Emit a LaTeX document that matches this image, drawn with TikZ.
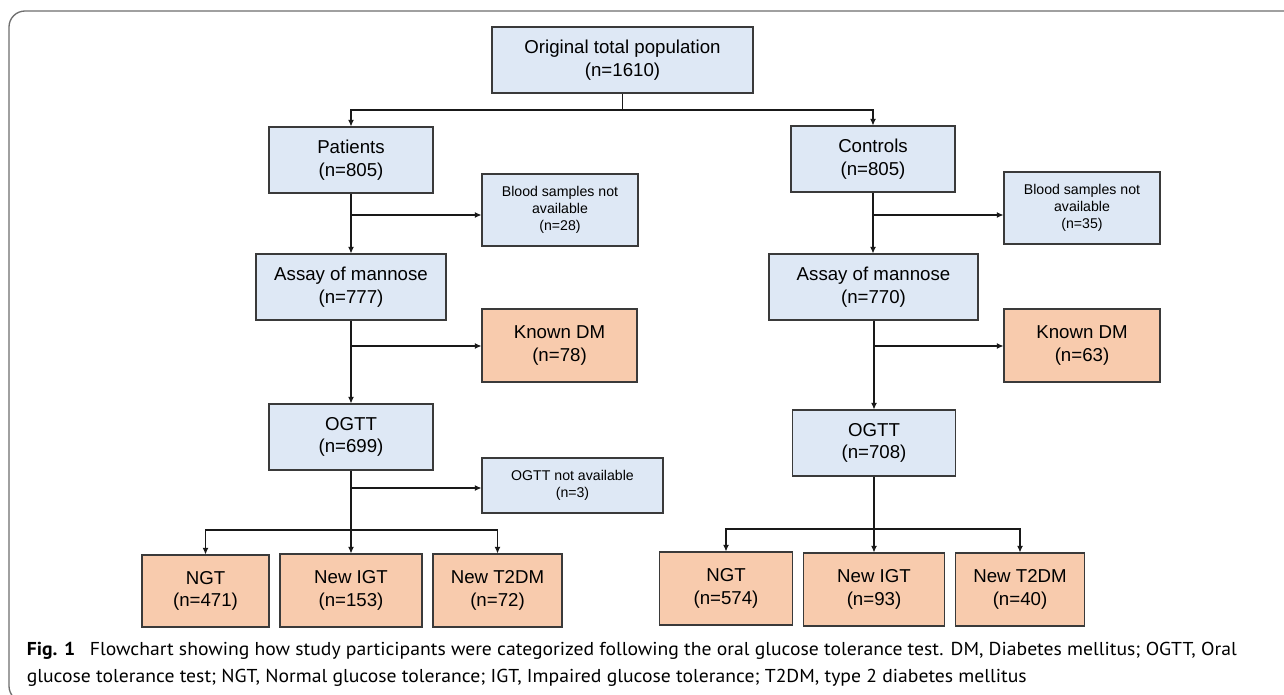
\documentclass[tikz,border=0pt]{standalone}
\usepackage{fontspec}
\setmainfont{Liberation Sans}
\newfontfamily\capfont{PT Sans}
\usetikzlibrary{arrows.meta}
\definecolor{bluefill}{HTML}{DEE8F5}
\definecolor{orfill}{HTML}{F8CBAD}
\definecolor{bord}{HTML}{3A3A3A}
\definecolor{framec}{HTML}{6E6E6E}
\definecolor{captext}{HTML}{1E1E1E}
\newsavebox\capA
\newsavebox\capB
\begin{document}
\sbox\capA{\capfont\fontsize{14}{20}\selectfont\textbf{Fig. 1}\hspace{0.75em}Flowchart showing how study participants were categorized following the oral glucose tolerance test. DM, Diabetes mellitus; OGTT, Oral}
\sbox\capB{\capfont\fontsize{14}{20}\selectfont glucose tolerance test; NGT, Normal glucose tolerance; IGT, Impaired glucose tolerance; T2DM, type 2 diabetes mellitus}
\begin{tikzpicture}[x=0.75pt,y=-0.75pt,
  box/.style={draw=bord, line width=0.8pt, inner sep=0pt, align=center, font=\fontsize{14}{17}\selectfont},
  bbox/.style={box, fill=bluefill},
  obox/.style={box, fill=orfill},
  sbox/.style={bbox, font=\fontsize{10.6}{12.5}\selectfont},
  conn/.style={line width=0.8pt, black!90},
  arr/.style={conn, -{Latex[length=5pt,width=4.5pt]}},
  capline/.style={anchor=base west, inner sep=0pt, text=captext}
]
\useasboundingbox (0,0) rectangle (1284,695);
\clip (0,0) rectangle (1284,695);
\fill[white] (0,0) rectangle (1284,695);
% frame
\draw[framec, line width=1pt, rounded corners=12pt] (1300,11) -- (9,11) -- (9,702) -- (60,702);

% patients branch
\node[bbox, minimum width=195.75pt, minimum height=49.5pt] (top) at (622.5,60) {Original total population\\(n=1610)};
\node[bbox, minimum width=123pt, minimum height=49.5pt] (pat) at (351,160) {Patients\\(n=805)};
\node[sbox, minimum width=117pt, minimum height=54pt] (bloodP) at (560,210) {Blood samples not\\available\\(n=28)};
\node[bbox, minimum width=142.5pt, minimum height=49.5pt] (assayP) at (351,287) {Assay of mannose\\(n=777)};
\node[obox, minimum width=116.25pt, minimum height=54.75pt] (knownP) at (559.5,345.5) {Known DM\\(n=78)};
\node[bbox, minimum width=123pt, minimum height=49.5pt] (ogttP) at (351,437) {OGTT\\(n=699)};
\node[sbox, minimum width=135.75pt, minimum height=41.25pt] (ogttnaP) at (572.5,485.5) {OGTT not available\\(n=3)};
\node[obox, minimum width=95.25pt, minimum height=54pt] (ngtP) at (205.5,591) {NGT\\(n=471)};
\node[obox, minimum width=106.5pt, minimum height=54.75pt] (igtP) at (351,590.5) {New IGT\\(n=153)};
\node[obox, minimum width=96.75pt, minimum height=54.75pt] (t2P) at (497.5,590.5) {New T2DM\\(n=72)};

% controls branch
\node[bbox, minimum width=123pt, minimum height=49.5pt] (con) at (873,159) {Controls\\(n=805)};
\node[sbox, minimum width=117pt, minimum height=54pt] (bloodC) at (1082,208) {Blood samples not\\available\\(n=35)};
\node[bbox, minimum width=156.75pt, minimum height=49.5pt] (assayC) at (873.5,287) {Assay of mannose\\(n=770)};
\node[obox, minimum width=117pt, minimum height=54.75pt] (knownC) at (1082,345.5) {Known DM\\(n=63)};
\node[bbox, minimum width=122pt, minimum height=49.5pt] (ogttC) at (874,443) {OGTT\\(n=708)};
\node[obox, minimum width=99.75pt, minimum height=54.75pt] (ngtC) at (726,588.5) {NGT\\(n=574)};
\node[obox, minimum width=105.75pt, minimum height=54.75pt] (igtC) at (874,589.5) {New IGT\\(n=93)};
\node[obox, minimum width=96.75pt, minimum height=54.75pt] (t2C) at (1020,589.5) {New T2DM\\(n=40)};

% connectors: top split
\coordinate (split) at (622.5,110);
\draw[conn] (top) -- (split);
\draw[arr] (split) -| (pat);
\draw[arr] (split) -| (con);

% patients column
\draw[arr] (pat) -- (assayP);
\coordinate (sP1) at (351,215);
\draw[arr] (sP1) -- (sP1 -| bloodP.west);
\draw[arr] (assayP) -- (ogttP);
\coordinate (sP2) at (351,346);
\draw[arr] (sP2) -- (sP2 -| knownP.west);
\draw[arr] (ogttP) -- (igtP);
\coordinate (sP3) at (351,488);
\draw[arr] (sP3) -- (sP3 -| ogttnaP.west);
\coordinate (brP) at (351,530);
\draw[arr] (brP) -| (ngtP);
\draw[arr] (brP) -| (t2P);

% controls column
\draw[arr] (con) -- (con |- assayC.north);
\coordinate (sC1) at (873,215);
\draw[arr] (sC1) -- (sC1 -| bloodC.west);
\draw[arr] (assayC.south -| ogttC) -- (ogttC);
\coordinate (sC2) at (873.5,346);
\draw[arr] (sC2) -- (sC2 -| knownC.west);
\draw[arr] (ogttC) -- (igtC);
\coordinate (brC) at (874,529);
\draw[arr] (brC) -| (ngtC);
\draw[arr] (brC) -| (t2C);

% caption
\node[capline] (cap1) at (26.5,655) {\scalebox{\fpeval{907.5/\the\wd\capA}}[1]{\usebox\capA}};
\node[capline] (cap2) at (26.5,682) {\scalebox{\fpeval{750/\the\wd\capB}}[1]{\usebox\capB}};
\end{tikzpicture}
\end{document}
